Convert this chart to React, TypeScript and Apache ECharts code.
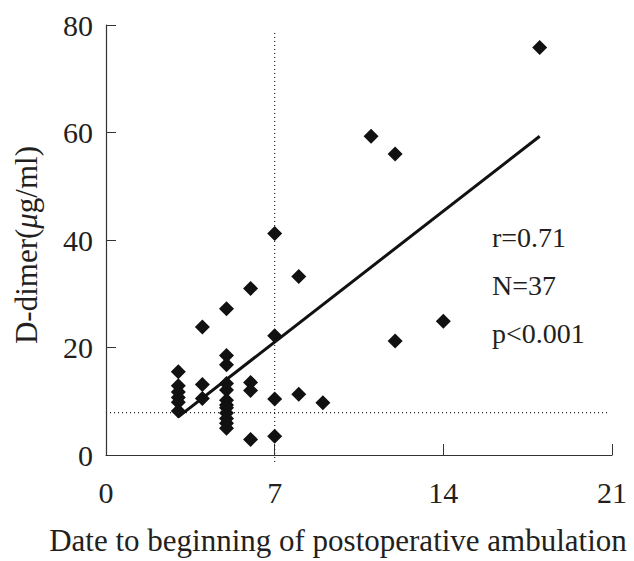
import React, { useEffect, useRef } from "react";
import * as echarts from "echarts";

const xTicks = [0, 7, 14, 21];
const yTicks = [0, 20, 40, 60, 80];
const days = [
  3, 3, 3, 3, 3, 3,
  4, 4, 4,
  5, 5, 5, 5, 5, 5, 5, 5, 5, 5, 5, 5,
  6, 6, 6, 6,
  7, 7, 7, 7,
  8, 8,
  9,
  11,
  12, 12,
  14,
  18,
];
const dDimer = [
  15.5, 12.9, 11.7, 10.7, 9.8, 8.2,
  23.8, 13.1, 10.5,
  27.2, 18.5, 16.8, 13.3, 12.1, 10.2, 9.3, 8.8, 7.8, 6.8, 5.9, 5.0,
  31.0, 13.5, 12.0, 2.9,
  41.2, 22.2, 10.4, 3.5,
  33.2, 11.3,
  9.7,
  59.3,
  56.0, 21.2,
  24.9,
  75.8,
];
const regressionX = [3, 18];
const regressionY = [7.1, 59.3];
const cutoffDay = 7;
const cutoffDayRange = [-1.3, 78.6];
const cutoffDimer = 7.9;
const cutoffDimerRange = [0, 20.8];
const statLabels = ["r=0.71", "N=37", "p<0.001"];
const xAxisTitle = "Date to beginning of postoperative ambulation";
const yAxisTitle = "D-dimer({mu|μ}g/ml)";

const FONT = "'Times New Roman', 'Liberation Serif', 'DejaVu Serif', serif";
const INK = "#231f20";

export default function App() {
  const ref = useRef<HTMLDivElement>(null);
  useEffect(() => {
    if (!ref.current) return;
    document.body.style.margin = "0";
    const chart = echarts.init(ref.current, undefined, { renderer: "svg" });
    const points = days.map((d, i) => [d, dDimer[i]]);
    chart.setOption({
      animation: false,
      backgroundColor: "#ffffff",
      textStyle: { fontFamily: FONT, color: INK },
      grid: {
        left: 106,
        top: 25,
        width: 506,
        height: 430,
        containLabel: false,
        outerBoundsMode: "none",
      },
      xAxis: {
        type: "value",
        min: xTicks[0],
        max: xTicks[xTicks.length - 1],
        interval: 7,
        name: xAxisTitle,
        nameLocation: "middle",
        nameGap: 70,
        nameTextStyle: { fontSize: 31, fontFamily: FONT, color: INK, padding: [0, 42, 0, 0] },
        axisLine: { lineStyle: { color: "#333", width: 1.2 } },
        axisTick: { inside: true, length: 11, lineStyle: { color: "#333", width: 1 } },
        axisLabel: { fontSize: 30, fontFamily: FONT, color: INK, margin: 22 },
        splitLine: { show: false },
      },
      yAxis: {
        type: "value",
        min: yTicks[0],
        max: yTicks[yTicks.length - 1],
        interval: 20,
        name: yAxisTitle,
        nameLocation: "middle",
        nameGap: 64,
        nameTextStyle: {
          fontSize: 31,
          fontFamily: FONT,
          color: INK,
          padding: [0, 10, 0, 0],
          rich: { mu: { fontSize: 31, fontFamily: FONT, fontStyle: "italic", color: INK } },
        },
        axisLine: { show: true, lineStyle: { color: "#333", width: 1.2 } },
        axisTick: { show: true, inside: true, length: 10, lineStyle: { color: "#333", width: 1 } },
        axisLabel: { fontSize: 30, fontFamily: FONT, color: INK, margin: 13 },
        splitLine: { show: false },
      },
      graphic: statLabels.map((t, i) => ({
        type: "text",
        left: 492,
        top: 223 + i * 48,
        style: { text: t, font: `28px ${FONT}`, fill: INK },
      })),
      series: [
        {
          type: "line",
          data: cutoffDayRange.map((v) => [cutoffDay, v]),
          symbol: "none",
          clip: false,
          silent: true,
          z: 1,
          lineStyle: { color: "#222", width: 1.2, type: [1, 3] },
        },
        {
          type: "line",
          data: cutoffDimerRange.map((v) => [v, cutoffDimer]),
          symbol: "none",
          clip: false,
          silent: true,
          z: 1,
          lineStyle: { color: "#222", width: 1.2, type: [1, 3] },
        },
        {
          type: "line",
          data: regressionX.map((x, i) => [x, regressionY[i]]),
          symbol: "none",
          z: 3,
          lineStyle: { color: "#111", width: 3 },
        },
        {
          type: "scatter",
          data: points,
          symbol: "diamond",
          symbolSize: 15,
          z: 4,
          itemStyle: { color: "#111", opacity: 1 },
        },
      ],
    });
    return () => chart.dispose();
  }, []);
  return <div ref={ref} style={{ width: 634, height: 561 }} />;
}
